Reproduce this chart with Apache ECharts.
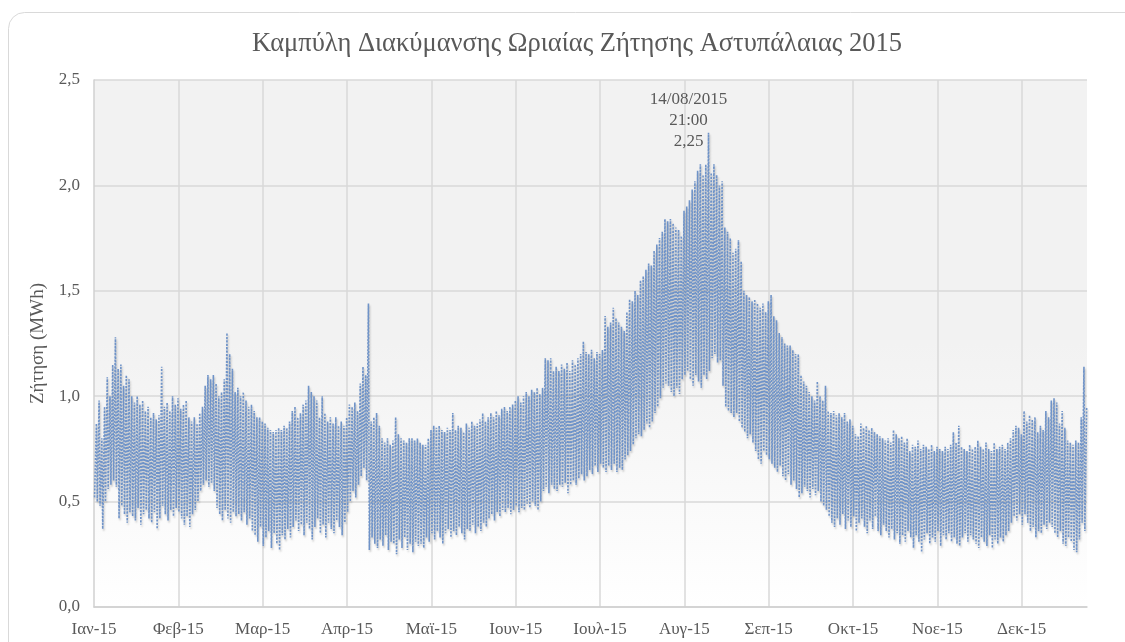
<!DOCTYPE html>
<html><head><meta charset="utf-8">
<script src="https://cdn.jsdelivr.net/npm/echarts@6/dist/echarts.min.js"></script>
<style>html,body{margin:0;padding:0;background:#fff}#c{width:1125px;height:642px}</style>
</head><body><div id="c"></div>
<script>
const chartTitle = 'Καμπύλη Διακύμανσης Ωριαίας Ζήτησης Αστυπάλαιας 2015';
const yAxisName = 'Ζήτηση (MWh)';
const monthLabels = ['Ιαν-15','Φεβ-15','Μαρ-15','Απρ-15','Μαϊ-15','Ιουν-15','Ιουλ-15','Αυγ-15','Σεπ-15','Οκτ-15','Νοε-15','Δεκ-15'];
const hoursInYear = 8760;
const labelStepHours = 744;
const lowHour = 5;    // hour of the nightly low
const peakHour = 21;  // hour of the evening peak
const peakDate = '14/08/2015';
const peakTime = '21:00';

// daily evening peak (MWh), Jan..Dec
const dailyPeak = [
  0.87,0.98,0.80,0.95,1.09,1.00,1.15,1.28,1.13,1.15,1.05,1.10,1.08,1.00,0.97,1.00,0.96,0.98,0.93,0.95,0.90,0.92,0.89,0.91,1.14,0.95,0.97,0.93,1.00,0.96,0.99,
  0.94,0.96,0.98,0.90,0.88,0.90,0.87,0.92,0.95,1.05,1.10,1.08,1.10,1.06,1.00,1.02,1.08,1.30,1.20,1.13,1.02,1.04,1.00,1.02,0.98,0.95,0.96,0.93,
  0.90,0.90,0.88,0.87,0.85,0.84,0.83,0.84,0.85,0.84,0.86,0.85,0.88,0.93,0.95,0.90,0.92,0.96,0.98,1.05,1.02,1.00,0.98,0.90,1.00,0.92,0.88,0.90,0.87,0.90,0.86,
  0.88,0.86,0.90,0.96,0.95,0.97,0.93,1.06,1.14,1.10,1.44,0.88,0.90,0.92,0.86,0.80,0.78,0.80,0.77,0.79,0.90,0.82,0.80,0.79,0.78,0.80,0.80,0.79,0.80,0.78,
  0.77,0.77,0.80,0.84,0.86,0.85,0.86,0.84,0.83,0.85,0.84,0.92,0.84,0.86,0.85,0.83,0.87,0.85,0.88,0.86,0.87,0.89,0.92,0.88,0.90,0.92,0.90,0.93,0.91,0.94,0.95,
  0.93,0.95,0.96,0.98,1.00,0.97,1.00,1.02,1.00,1.03,1.02,1.04,1.01,1.04,1.18,1.17,1.18,1.12,1.14,1.12,1.15,1.13,1.16,1.12,1.17,1.15,1.18,1.20,1.26,1.21,
  1.20,1.22,1.18,1.21,1.20,1.22,1.38,1.33,1.35,1.42,1.37,1.35,1.33,1.31,1.40,1.46,1.45,1.50,1.48,1.55,1.57,1.60,1.63,1.62,1.69,1.72,1.75,1.78,1.84,1.83,1.84,
  1.82,1.80,1.79,1.76,1.88,1.90,1.93,1.98,2.02,2.07,2.10,2.05,2.10,2.25,2.06,2.10,2.05,2.00,2.02,1.80,1.78,1.75,1.68,1.70,1.74,1.64,1.50,1.48,1.47,1.45,1.46,
  1.44,1.42,1.44,1.40,1.45,1.48,1.38,1.36,1.30,1.28,1.25,1.24,1.24,1.22,1.20,1.20,1.10,1.07,1.05,1.02,1.00,0.98,1.07,1.00,0.98,1.05,0.93,0.92,0.93,0.91,
  0.92,0.90,0.92,0.88,0.89,0.86,0.82,0.81,0.87,0.85,0.86,0.84,0.85,0.83,0.82,0.81,0.80,0.79,0.80,0.78,0.84,0.82,0.80,0.81,0.78,0.80,0.74,0.77,0.76,0.79,0.75,
  0.77,0.76,0.75,0.77,0.74,0.76,0.75,0.74,0.76,0.75,0.77,0.83,0.78,0.86,0.76,0.75,0.74,0.77,0.75,0.76,0.79,0.76,0.75,0.78,0.75,0.74,0.78,0.75,0.76,0.77,
  0.75,0.78,0.80,0.84,0.86,0.85,0.82,0.93,0.88,0.91,0.89,0.90,0.83,0.86,0.84,0.93,0.90,0.98,0.99,0.97,0.87,0.93,0.85,0.79,0.78,0.77,0.79,0.78,0.90,1.14,0.95
];

// daily night low (MWh), Jan..Dec
const dailyLow = [
  0.52,0.50,0.48,0.37,0.50,0.56,0.58,0.60,0.57,0.42,0.48,0.44,0.40,0.45,0.43,0.41,0.47,0.39,0.44,0.46,0.42,0.40,0.45,0.37,0.42,0.48,0.44,0.41,0.46,0.43,0.47,
  0.45,0.42,0.39,0.43,0.38,0.44,0.46,0.50,0.55,0.58,0.60,0.57,0.59,0.55,0.47,0.44,0.41,0.46,0.42,0.40,0.45,0.43,0.44,0.41,0.45,0.39,0.42,0.36,
  0.34,0.31,0.38,0.29,0.33,0.36,0.28,0.35,0.30,0.27,0.34,0.32,0.37,0.33,0.38,0.41,0.36,0.39,0.34,0.40,0.37,0.32,0.38,0.42,0.35,0.39,0.33,0.40,0.37,0.35,0.41,
  0.38,0.34,0.40,0.45,0.50,0.55,0.52,0.58,0.62,0.66,0.60,0.27,0.33,0.30,0.28,0.32,0.29,0.34,0.27,0.31,0.30,0.25,0.32,0.28,0.33,0.27,0.30,0.26,0.31,0.29,
  0.30,0.28,0.33,0.31,0.35,0.32,0.36,0.33,0.30,0.35,0.37,0.33,0.36,0.34,0.38,0.35,0.32,0.37,0.36,0.39,0.35,0.38,0.36,0.40,0.38,0.42,0.44,0.41,0.45,0.43,0.46,
  0.45,0.47,0.44,0.46,0.48,0.45,0.47,0.46,0.49,0.47,0.50,0.48,0.46,0.50,0.55,0.57,0.54,0.58,0.56,0.55,0.58,0.57,0.59,0.54,0.58,0.60,0.58,0.61,0.63,0.60,
  0.62,0.65,0.63,0.67,0.64,0.68,0.66,0.64,0.67,0.65,0.68,0.64,0.66,0.65,0.70,0.72,0.74,0.77,0.80,0.82,0.81,0.84,0.87,0.85,0.88,0.92,0.95,0.99,1.04,1.06,1.05,
  1.02,1.00,1.04,1.01,1.08,1.10,1.12,1.08,1.05,1.10,1.07,1.04,1.10,1.08,1.12,1.18,1.20,1.16,1.17,1.05,0.95,0.93,0.92,0.90,0.92,0.88,0.85,0.83,0.80,0.82,0.78,
  0.74,0.70,0.68,0.74,0.72,0.70,0.68,0.66,0.64,0.67,0.62,0.60,0.63,0.58,0.60,0.56,0.52,0.54,0.57,0.55,0.52,0.56,0.53,0.55,0.50,0.48,0.46,0.43,0.40,0.38,
  0.42,0.39,0.44,0.37,0.41,0.38,0.43,0.36,0.40,0.42,0.38,0.35,0.41,0.37,0.43,0.36,0.34,0.39,0.36,0.33,0.37,0.32,0.35,0.30,0.34,0.31,0.36,0.33,0.28,0.34,0.31,
  0.26,0.32,0.35,0.30,0.33,0.31,0.36,0.29,0.34,0.32,0.35,0.31,0.33,0.30,0.29,0.33,0.35,0.31,0.34,0.32,0.30,0.28,0.33,0.31,0.29,0.34,0.28,0.32,0.30,0.33,
  0.31,0.34,0.36,0.40,0.43,0.41,0.44,0.39,0.44,0.40,0.36,0.38,0.33,0.36,0.35,0.39,0.37,0.40,0.38,0.35,0.33,0.36,0.30,0.29,0.33,0.31,0.27,0.26,0.32,0.40,0.36
];

const seriesData = [];
for (let d = 0; d < dailyPeak.length; d++) {
  seriesData.push([d * 24 + lowHour, dailyLow[d]]);
  seriesData.push([d * 24 + peakHour, dailyPeak[d]]);
}

const fmt = v => v.toFixed(1).replace('.', ',');
const font = 'Liberation Serif';
const textGray = '#595959';
const gridGray = '#d9d9d9';
const splitColors = [];
for (let i = 0; i * labelStepHours < hoursInYear; i++) splitColors.push(i === 0 ? 'rgba(0,0,0,0)' : gridGray);
splitColors.push('rgba(0,0,0,0)');

const chart = echarts.init(document.getElementById('c'), null, {renderer: 'canvas'});
chart.setOption({
  animation: false,
  backgroundColor: '#ffffff',
  graphic: [{
    type: 'rect', z: -10, silent: true,
    shape: {x: 8.5, y: 12.5, width: 1160, height: 680, r: 16},
    style: {fill: '#ffffff', stroke: '#d9d9d9', lineWidth: 1}
  }],
  title: {
    text: chartTitle, left: 572, top: 26, textAlign: 'center',
    textStyle: {fontFamily: font, fontSize: 26.5, fontWeight: 'normal', color: textGray}
  },
  grid: {
    left: 94, right: 38, top: 80, bottom: 35, show: true, borderWidth: 0,
    backgroundColor: {type: 'linear', x: 0, y: 0, x2: 0, y2: 1, colorStops: [
      {offset: 0, color: '#f2f2f2'}, {offset: 0.5, color: '#f2f2f2'}, {offset: 1, color: '#ffffff'}]}
  },
  xAxis: {
    type: 'value', min: 0, max: hoursInYear, interval: labelStepHours,
    axisLine: {show: true, lineStyle: {color: '#d0d0d0', width: 1.5}},
    axisTick: {show: false},
    splitLine: {show: true, lineStyle: {color: splitColors, width: 1.5}},
    axisLabel: {
      fontFamily: font, fontSize: 17, color: textGray, margin: 14,
      showMaxLabel: false,
      formatter: v => (v % labelStepHours === 0 && v / labelStepHours < monthLabels.length) ? monthLabels[v / labelStepHours] : ''
    }
  },
  yAxis: {
    type: 'value', min: 0, max: 2.5, interval: 0.5,
    name: yAxisName, nameLocation: 'middle', nameGap: 42,
    nameTextStyle: {fontFamily: font, fontSize: 19, color: textGray},
    axisLine: {show: true, lineStyle: {color: '#d0d0d0', width: 1.5}},
    axisTick: {show: false},
    splitLine: {show: true, lineStyle: {color: gridGray, width: 1.5}},
    axisLabel: {fontFamily: font, fontSize: 17, color: textGray, margin: 14, formatter: fmt}
  },
  series: [{
    type: 'line', data: seriesData, showSymbol: false, symbol: 'none',
    lineStyle: {color: '#6f93c8', width: 1.6, type: [2, 1.4],
      shadowColor: 'rgba(0,0,0,0.22)', shadowBlur: 2, shadowOffsetX: 1, shadowOffsetY: 2},
    markPoint: {
      symbol: 'circle', symbolSize: 0,
      data: [{type: 'max'}],
      label: {
        show: true, position: 'top', offset: [-20, 24],
        fontFamily: font, fontSize: 17, color: textGray, lineHeight: 21, align: 'center',
        formatter: p => peakDate + '\n' + peakTime + '\n' + p.value.toFixed(2).replace('.', ',')
      }
    }
  }]
});
</script></body></html>
